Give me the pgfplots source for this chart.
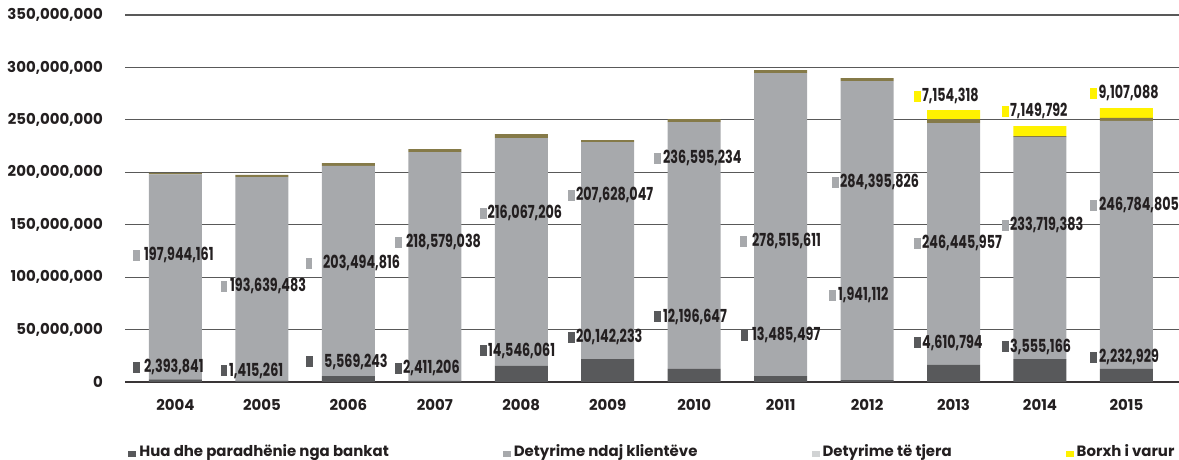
\documentclass[border=0pt]{standalone}
\usepackage{pgfplots}
\pgfplotsset{compat=1.18}
\usepackage{fontspec}
\setmainfont{Poppins}
\newfontfamily\condfont[FakeStretch=0.71]{Poppins}
\definecolor{cdark}{HTML}{58595B}
\definecolor{cgray}{HTML}{A7A9AC}
\definecolor{colive}{HTML}{857A48}
\definecolor{cyellow}{HTML}{FFF200}
\definecolor{clight}{HTML}{D1D3D4}
\definecolor{ctext}{HTML}{231F20}
\definecolor{cgrid}{HTML}{595959}
\pgfplotsset{geom/.style={at={(125bp,78bp)}, anchor=south west,
  scale only axis, width=1054bp, height=367bp,
  xmin=-0.584, xmax=11.608, ymin=0, ymax=350, clip=false}}
\newcommand{\lab}[5]{\node[anchor=west,inner sep=0pt,text height=11bp,text depth=0pt,font=\condfont\bfseries\fontsize{18}{18}\selectfont,text=ctext] at (axis cs:#1,#2) {\textcolor{#3}{\rule{6.5bp}{11bp}}\hspace{#4bp}#5};}
\begin{document}
\begin{tikzpicture}
\useasboundingbox (0,0) rectangle (1179bp,460bp);
\begin{axis}[
  geom,
  ybar stacked, bar width=0.613,
  axis y line*=left, axis x line*=bottom,
  y axis line style={draw=none},
  x axis line style={draw=ctext!90, line width=2.2bp},
  major tick length=0pt,
  ymajorgrids, grid style={cgrid, line width=1.2bp},
  ytick={0,50,100,150,200,250,300,350},
  yticklabels={0,{50,000,000},{100,000,000},{150,000,000},{200,000,000},{250,000,000},{300,000,000},{350,000,000}},
  xtick={0,1,2,3,4,5,6,7,8,9,10,11},
  xticklabels={2004,2005,2006,2007,2008,2009,2010,2011,2012,2013,2014,2015},
  yticklabel style={font=\bfseries\fontsize{15}{15}\selectfont, text=ctext, inner sep=0pt, xshift=-22bp},
  xticklabel style={font=\bfseries\fontsize{15}{15}\selectfont, text=ctext, inner sep=0pt, yshift=-17bp},
  legend image code/.code={\fill[#1] (0bp,-5.5bp) rectangle (8bp,0.5bp);},
  legend columns=4,
  legend style={at={(0.0031,-0.19)}, anchor=west, draw=none, fill=none, inner sep=0pt,
    font=\bfseries\fontsize{15}{15}\selectfont, text=ctext,
    nodes={inner sep=0pt},
    /tikz/every odd column/.append style={column sep=3bp},
    /tikz/every even column/.append style={column sep=114bp}},
]
\addplot[fill=cdark, draw=none, forget plot] coordinates {(0,2.4) (1,1.4) (2,5.6) (3,1.0) (4,15.5) (5,21.9) (6,12.4) (7,5.7) (8,1.9) (9,16.5) (10,21.9) (11,12.4)};
\addplot[fill=cgray, draw=none, forget plot] coordinates {(0,195.6) (1,194.0) (2,200.6) (3,218.3) (4,217.1) (5,206.9) (6,235.5) (7,288.9) (8,285.0) (9,230.4) (10,211.7) (11,236.7)};
\addplot[fill=colive, draw=none, forget plot] coordinates {(0,1.5) (1,2.2) (2,2.6) (3,2.8) (4,3.8) (5,1.9) (6,2.8) (7,2.8) (8,2.9) (9,3.8) (10,0.9) (11,2.9)};
\addplot[fill=cyellow, draw=none, forget plot] coordinates {(0,0) (1,0) (2,0) (3,0) (4,0) (5,0) (6,0) (7,0) (8,0) (9,8.6) (10,9.5) (11,9.2)};
\addlegendimage{fill=cdark, draw=none}
\addlegendentry{Hua dhe paradhënie nga bankat}
\addlegendimage{fill=cgray, draw=none}
\addlegendentry{Detyrime ndaj klientëve}
\addlegendimage{fill=clight, draw=none}
\addlegendentry{Detyrime të tjera}
\addlegendimage{fill=cyellow, draw=none}
\addlegendentry{Borxh i varur}
\end{axis}
\begin{axis}[geom, hide axis]
\lab{-0.492}{121.1}{cgray}{4.5}{197,944,161}
\lab{-0.492}{14.3}{cdark}{4.5}{2,393,841}
\lab{0.523}{91.5}{cgray}{2.8}{193,639,483}
\lab{0.523}{10.5}{cdark}{1.8}{1,415,261}
\lab{1.506}{113.4}{cgray}{10.8}{203,494,816}
\lab{1.510}{19.1}{cdark}{11.5}{5,569,243}
\lab{2.539}{133.5}{cgray}{4.5}{218,579,038}
\lab{2.539}{13.3}{cdark}{1.5}{2,411,206}
\lab{3.522}{161.1}{cgray}{1}{216,067,206}
\lab{3.522}{29.6}{cdark}{1.5}{14,546,061}
\lab{4.540}{178.3}{cgray}{1.5}{207,628,047}
\lab{4.540}{42.9}{cdark}{1.5}{20,142,233}
\lab{5.535}{213.5}{cgray}{2.5}{236,595,234}
\lab{5.535}{62.0}{cdark}{2.5}{12,196,647}
\lab{6.530}{134.4}{cgray}{5.5}{278,515,611}
\lab{6.541}{44.8}{cdark}{4.5}{13,485,497}
\lab{7.594}{190.7}{cgray}{1.5}{284,395,826}
\lab{7.559}{82.9}{cgray}{2.5}{1,941,112}
\lab{8.542}{272.6}{cyellow}{1.5}{7,154,318}
\lab{8.542}{132.5}{cgray}{1.5}{246,445,957}
\lab{8.542}{37.2}{cdark}{1.5}{4,610,794}
\lab{9.560}{258.3}{cyellow}{1.5}{7,149,792}
\lab{9.560}{149.7}{cgray}{1.5}{233,719,383}
\lab{9.560}{33.4}{cdark}{1.5}{3,555,166}
\lab{10.578}{275.5}{cyellow}{2}{9,107,088}
\lab{10.578}{168.7}{cgray}{2.5}{246,784,805}
\lab{10.578}{23.8}{cdark}{2.5}{2,232,929}
\end{axis}
\end{tikzpicture}
\end{document}
